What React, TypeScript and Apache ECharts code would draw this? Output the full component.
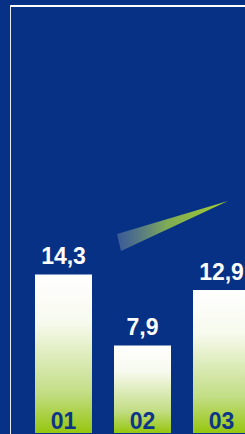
import React, { useEffect, useRef } from "react";
import * as echarts from "echarts";

const categories = ["01", "02", "03"];
const values = [14.3, 7.9, 12.9];

export default function App() {
  const ref = useRef<HTMLDivElement>(null);
  useEffect(() => {
    document.body.style.margin = "0";
    const chart = echarts.init(ref.current!, null, { renderer: "svg" });
    chart.setOption({
      animation: false,
      backgroundColor: "#063185",
      grid: { left: 24, right: 0, top: 12, bottom: 1 },
      xAxis: {
        type: "category",
        data: categories,
        z: 10,
        axisLine: { show: false },
        axisTick: { show: false },
        axisLabel: {
          inside: true,
          margin: 1,
          color: "#0d3588",
          fontFamily: "Liberation Sans, Arial, sans-serif",
          fontWeight: "bold",
          fontSize: 23,
        },
      },
      yAxis: {
        type: "value",
        min: 0,
        max: 38,
        show: false,
        splitLine: { show: false },
      },
      series: [
        {
          type: "bar",
          data: values,
          barWidth: 57,
          itemStyle: {
            color: new echarts.graphic.LinearGradient(0, 0, 0, 1, [
              { offset: 0, color: "#ffffff" },
              { offset: 0.3, color: "#f7faee" },
              { offset: 0.75, color: "#c2dd84" },
              { offset: 1, color: "#96c60e" },
            ]),
          },
          label: {
            show: true,
            position: "top",
            distance: 7,
            color: "#ffffff",
            fontFamily: "Liberation Sans, Arial, sans-serif",
            fontWeight: "bold",
            fontSize: 23,
            formatter: (p: any) => String(p.value).replace(".", ","),
          },
        },
      ],
      graphic: [
        {
          type: "rect",
          shape: { x: 10, y: 5, width: 260, height: 2 },
          style: { fill: "#ffffff" },
          silent: true,
        },
        {
          type: "rect",
          shape: { x: 10, y: 5, width: 1, height: 430 },
          style: { fill: "#e8ecf5" },
          silent: true,
        },
        {
          type: "polygon",
          shape: { points: [[117, 234], [228, 201], [121, 251]] },
          style: {
            fill: new echarts.graphic.LinearGradient(0, 0, 1, 0, [
              { offset: 0, color: "rgba(120,140,170,0.45)" },
              { offset: 0.45, color: "rgba(140,185,80,0.9)" },
              { offset: 1, color: "#a8cf2c" },
            ]),
          },
          silent: true,
        },
      ],
    });
    return () => chart.dispose();
  }, []);
  return (
    <div
      style={{
        position: "absolute",
        left: 0,
        top: 0,
        width: 245,
        height: 434,
        overflow: "hidden",
      }}
    >
      <div ref={ref} style={{ width: 261, height: 434 }} />
    </div>
  );
}
